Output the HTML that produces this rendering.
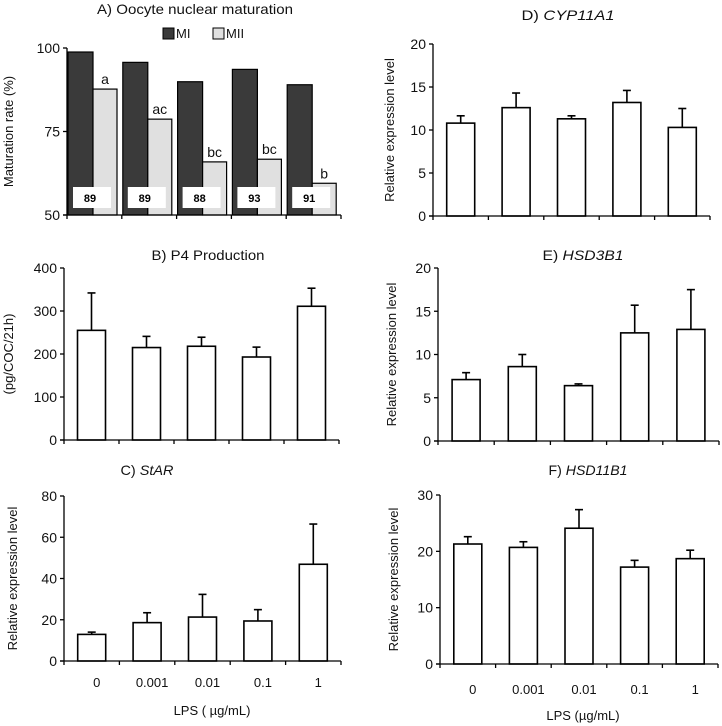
<!DOCTYPE html>
<html><head><meta charset="utf-8"><style>
html,body{margin:0;padding:0;background:#fff;}
svg{display:block;font-family:"Liberation Sans",Arial,sans-serif;}
</style></head><body>
<svg id="fig" width="722" height="726" viewBox="0 0 722 726" xmlns="http://www.w3.org/2000/svg"></svg>
<script>
const categories = ["0","0.001","0.01","0.1","1"];
const miValues = [98.8, 95.7, 89.9, 93.6, 89.0];
const miiValues = [87.7, 78.7, 65.9, 66.7, 59.5];
const letterLabels = ["a","ac","bc","bc","b"];
const nLabels = ["89","89","88","93","91"];
const aTicks = [50, 75, 100];
const p4Mean = [255, 215, 218, 193, 311];
const p4Err = [342, 241, 239, 216, 353];
const p4Ticks = [0, 100, 200, 300, 400];
const starMean = [12.9, 18.6, 21.3, 19.4, 46.9];
const starErr = [14.0, 23.4, 32.3, 24.9, 66.4];
const starTicks = [0, 20, 40, 60, 80];
const cypMean = [10.8, 12.6, 11.3, 13.2, 10.3];
const cypErr = [11.65, 14.3, 11.65, 14.6, 12.5];
const cypTicks = [0, 5, 10, 15, 20];
const hsd3Mean = [7.1, 8.6, 6.4, 12.5, 12.9];
const hsd3Err = [7.9, 10.0, 6.6, 15.7, 17.5];
const hsd3Ticks = [0, 5, 10, 15, 20];
const hsd11Mean = [21.3, 20.7, 24.1, 17.2, 18.7];
const hsd11Err = [22.6, 21.7, 27.4, 18.4, 20.2];
const hsd11Ticks = [0, 10, 20, 30];

const NS = "http://www.w3.org/2000/svg";
const svg = document.getElementById("fig");
function mk(tag, attrs, parent, text){
  const e = document.createElementNS(NS, tag);
  for (const k in attrs) e.setAttribute(k, attrs[k]);
  if (text !== undefined) e.textContent = text;
  (parent || svg).appendChild(e);
  return e;
}

function panel(cfg){
  const g = mk("g", {});
  
  
  const x0 = cfg.x0, x1 = cfg.x1, yb = cfg.yb, yt = cfg.yt;
  const vmin = cfg.ticks[0], vmax = cfg.ticks[cfg.ticks.length-1];
  const ys = v => yb - (v - vmin) / (vmax - vmin) * (yb - yt);
  const cw = (x1 - x0) / categories.length;
  const xc = i => x0 + cw * (i + 0.5);
  // title
  const t = mk("text", {x: cfg.tx, y: cfg.ty, "text-anchor": "middle", "font-size": 14, fill: "#111", textLength: cfg.tlen, lengthAdjust: "spacingAndGlyphs"}, g);
  
  
  mk("tspan", {}, t, cfg.prefix);
  if (cfg.title) mk("tspan", {"font-style": cfg.italic ? "italic" : "normal"}, t, cfg.title);
  // y axis title
  const yt2 = mk("text", {x: 0, y: 0, transform: `translate(${cfg.ylx},${(yb+yt)/2}) rotate(-90)`, "text-anchor": "middle", "font-size": 13, fill: "#111"}, g, cfg.ylabel);
  
  
  // bars
  if (cfg.means) {
    cfg.means.forEach((m, i) => {
      const bw = 28;
      const top = ys(m);
      const eTop = ys(cfg.errs[i]);
      const eb = mk("line", {x1: xc(i), x2: xc(i), y1: top, y2: eTop, stroke: "#000", "stroke-width": 1.6}, g);
      
      
      const cap = mk("line", {x1: xc(i) - 4, x2: xc(i) + 4, y1: eTop, y2: eTop, stroke: "#000", "stroke-width": 1.6}, g);
      
      
      const r = mk("rect", {x: xc(i) - bw/2, y: top, width: bw, height: yb - top, fill: "#fff", stroke: "#000", "stroke-width": 1.6}, g);
      
      
    });
  }
  if (cfg.grouped) {
    categories.forEach((c, i) => {
      const left = x0 + cw * i + 1;
      const t1 = ys(miValues[i]);
      const r1 = mk("rect", {x: left, y: t1, width: 25, height: yb - t1, fill: "#3a3a3a", stroke: "#000", "stroke-width": 1.2}, g);
      
      
      const t2 = ys(miiValues[i]);
      const r2 = mk("rect", {x: left + 25, y: t2, width: 24, height: yb - t2, fill: "#e0e0e0", stroke: "#000", "stroke-width": 1.2}, g);
      
      
      const lt = mk("text", {x: left + 37, y: t2 - 5, "text-anchor": "middle", "font-size": 14, fill: "#111"}, g, letterLabels[i]);
      
      
      const bx = mk("rect", {x: left + 5, y: 187, width: 38, height: 21, fill: "#fff"}, g);
      
      
      const nt = mk("text", {x: left + 22, y: 202, "text-anchor": "middle", "font-size": 11, "font-weight": "bold", fill: "#000"}, g, nLabels[i]);
      
      
    });
  }
  // axes
  const ya = mk("line", {x1: x0, x2: x0, y1: yt, y2: yb, stroke: "#000", "stroke-width": 1.3}, g);
  
  
  const xa = mk("line", {x1: x0 - 4, x2: x1, y1: yb, y2: yb, stroke: "#000", "stroke-width": 1.3}, g);
  
  
  cfg.ticks.forEach(v => {
    mk("line", {x1: x0 - 4, x2: x0, y1: ys(v), y2: ys(v), stroke: "#000", "stroke-width": 1.3}, g);
    const tl = mk("text", {x: x0 - 7, y: ys(v) + 5, "text-anchor": "end", "font-size": 14, fill: "#111"}, g, String(v));
    
    
  });
  for (let i = 0; i <= categories.length; i++) {
    const xx = x0 + cw * i;
    mk("line", {x1: xx, x2: xx, y1: yb, y2: yb + 4, stroke: "#000", "stroke-width": 1.3}, g);
  }
  if (cfg.xlabels) {
    categories.forEach((c, i) => {
      const xl = mk("text", {x: xc(i) + 5, y: cfg.xly, "text-anchor": "middle", "font-size": 13, fill: "#111"}, g, c);
      
      
    });
    const xt = mk("text", {x: cfg.xtx, y: cfg.xty, "text-anchor": "middle", "font-size": 13, fill: "#111"}, g, cfg.xtitle);
    
    
  }
}

panel({name: "panel-a-maturation", x0: 67, x1: 341, yb: 215, yt: 48, ticks: aTicks, grouped: true,
  tx: 195, ty: 14, tlen: 196, prefix: "A) Oocyte nuclear maturation", title: "", ylabel: "Maturation rate (%)", ylx: 13});
// legend
const lg = mk("g", {});


const l1 = mk("rect", {x: 163, y: 28, width: 11, height: 11, fill: "#3a3a3a", stroke: "#000"}, lg);


mk("text", {x: 176, y: 38, "font-size": 13, fill: "#111"}, lg, "MI");
const l2 = mk("rect", {x: 213, y: 28, width: 11, height: 11, fill: "#e0e0e0", stroke: "#000"}, lg);


mk("text", {x: 226, y: 38, "font-size": 13, fill: "#111"}, lg, "MII");

panel({name: "panel-b-p4", x0: 64, x1: 339, yb: 440, yt: 268, ticks: p4Ticks, means: p4Mean, errs: p4Err,
  tx: 208, ty: 260, tlen: 113, prefix: "B) P4 Production", title: "", ylabel: "(pg/COC/21h)", ylx: 13});
panel({name: "panel-c-star", x0: 64, x1: 341, yb: 661, yt: 496, ticks: starTicks, means: starMean, errs: starErr,
  tx: 147, ty: 475, tlen: 53, prefix: "C) ", title: "StAR", italic: true, ylabel: "Relative expression level", ylx: 17,
  xlabels: true, xly: 687, xtx: 212, xty: 715, xtitle: "LPS ( µg/mL)"});
panel({name: "panel-d-cyp11a1", x0: 433, x1: 710, yb: 216, yt: 44, ticks: cypTicks, means: cypMean, errs: cypErr,
  tx: 568, ty: 20, tlen: 93, prefix: "D) ", title: "CYP11A1", italic: true, ylabel: "Relative expression level", ylx: 394});
panel({name: "panel-e-hsd3b1", x0: 438, x1: 719, yb: 441, yt: 268, ticks: hsd3Ticks, means: hsd3Mean, errs: hsd3Err,
  tx: 583, ty: 260, tlen: 81, prefix: "E) ", title: "HSD3B1", italic: true, ylabel: "Relative expression level", ylx: 396});
panel({name: "panel-f-hsd11b1", x0: 440, x1: 718, yb: 664, yt: 495, ticks: hsd11Ticks, means: hsd11Mean, errs: hsd11Err,
  tx: 588, ty: 475, tlen: 79, prefix: "F) ", title: "HSD11B1", italic: true, ylabel: "Relative expression level", ylx: 398,
  xlabels: true, xly: 694, xtx: 583, xty: 720, xtitle: "LPS (µg/mL)"});
</script>
</body></html>
